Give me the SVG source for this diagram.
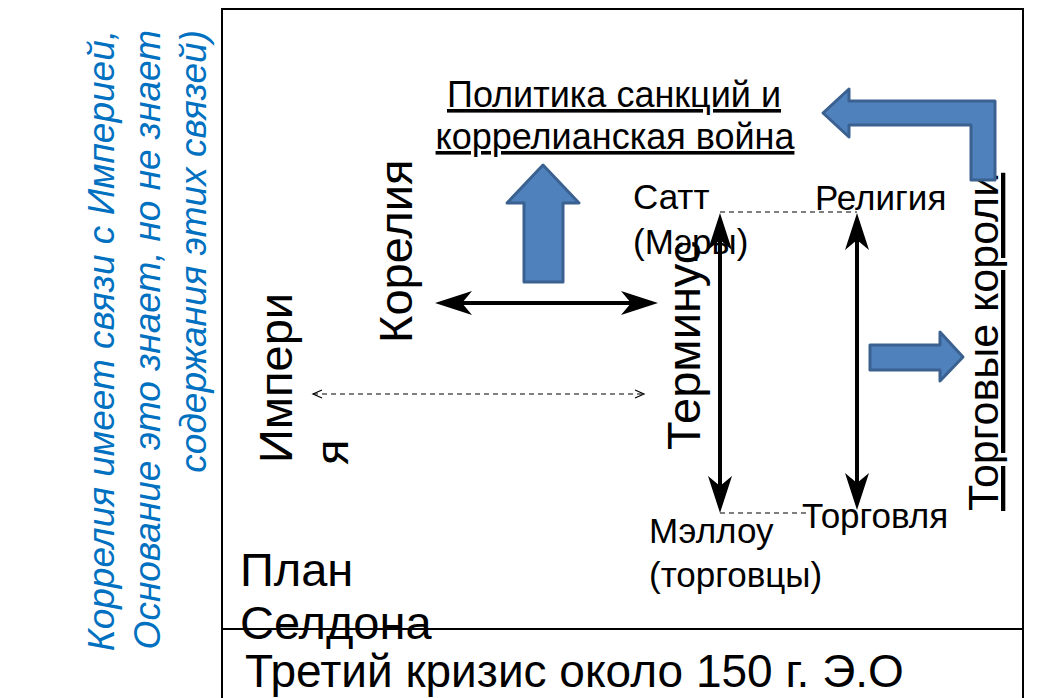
<svg xmlns="http://www.w3.org/2000/svg" width="1038" height="698" viewBox="0 0 1038 698">
<style>
text{font-family:"Liberation Sans",Arial,sans-serif;fill:#000}
.note{font-style:italic;fill:#0070C0;font-size:37px}
.big{font-size:47px}
.mid{font-size:35px}
.title{font-size:36px;text-decoration:underline}
.block{fill:#4F81BD;stroke:#3A6190;stroke-width:3;stroke-linejoin:round}
.thick{stroke:#000;stroke-width:4;fill:none}
.dash{stroke:#000;stroke-width:1.2;fill:none;stroke-dasharray:5 4}
</style>
<defs>
<marker id="stealth" markerUnits="userSpaceOnUse" orient="auto-start-reverse" refX="-27" refY="0" overflow="visible" markerWidth="40" markerHeight="30">
<path d="M0,0 L-37,-12 L-27,0 L-37,12 Z" fill="#000"/>
</marker>
<marker id="open" markerUnits="userSpaceOnUse" orient="auto-start-reverse" refX="0" refY="0" overflow="visible" markerWidth="12" markerHeight="10">
<path d="M-9,-4 L0,0 L-9,4" fill="none" stroke="#000" stroke-width="1.2"/>
</marker>
</defs>
<rect width="1038" height="698" fill="#fff"/>
<g id="frame" fill="none" stroke="#000" stroke-width="2">
<path d="M222,700 L222,9 L1023,9 L1023,700"/>
<path d="M222,629 L1023,629"/>
</g>
<g id="note">
<text class="note" transform="translate(114,30) rotate(-90)" text-anchor="end">Коррелия имеет связи с Империей,</text>
<text class="note" transform="translate(160,30) rotate(-90)" text-anchor="end">Основание это знает, но не знает</text>
<text class="note" transform="translate(206,30) rotate(-90)" text-anchor="end">содержания этих связей)</text>
</g>
<g id="connectors">
<line class="thick" x1="462" y1="303" x2="631" y2="303" marker-start="url(#stealth)" marker-end="url(#stealth)"/>
<line class="dash" x1="313" y1="394" x2="644" y2="394" marker-start="url(#open)" marker-end="url(#open)"/>
<line class="thick" x1="720" y1="240" x2="720" y2="486" marker-start="url(#stealth)" marker-end="url(#stealth)"/>
<line class="thick" x1="857" y1="240" x2="857" y2="483" marker-start="url(#stealth)" marker-end="url(#stealth)"/>
<line class="dash" x1="720" y1="212" x2="857" y2="212"/>
<line class="dash" x1="720" y1="513" x2="810" y2="513"/>
</g>
<g id="policy">
<text class="title" x="614" y="107" text-anchor="middle">Политика санкций и</text>
<text class="title" x="615" y="149" text-anchor="middle">коррелианская война</text>
</g>
<g id="korelia">
<text class="big" transform="translate(412,343) rotate(-90)">Корелия</text>
</g>
<g id="imperia">
<text class="big" transform="translate(292,463) rotate(-90)">Импери</text>
<text class="big" transform="translate(348,465) rotate(-90)">я</text>
</g>
<g id="terminus">
<text class="big" transform="translate(700,450) rotate(-90)">Терминус</text>
</g>
<g id="satt">
<text class="mid" x="633" y="209">Сатт</text>
<text class="mid" x="633" y="254">(Мэры)</text>
</g>
<g id="religia">
<text class="mid" x="815" y="210">Религия</text>
</g>
<g id="mallow">
<text class="mid" x="649" y="543">Мэллоу</text>
<text class="mid" x="649" y="587">(торговцы)</text>
</g>
<g id="torgovlia">
<text class="mid" x="802" y="528">Торговля</text>
</g>
<g id="kings">
<text class="big" style="font-size:43px;text-decoration:underline" transform="translate(998,511) rotate(-90)">Торговые короли</text>
</g>
<g id="plan">
<text class="big" x="240" y="586">План</text>
<text class="big" x="240" y="639">Селдона</text>
</g>
<g id="crisis">
<text style="font-size:46px" x="245" y="687">Третий кризис около 150 г. Э.О</text>
</g>
<g id="block-arrows">
<path class="block" d="M543,165 L579,203 L563,203 L563,282 L524,282 L524,203 L507,203 Z"/>
<path class="block" d="M823,113 L849,89 L849,101 L995,101 L995,180 L971,180 L971,125 L849,125 L849,137 Z"/>
<path class="block" d="M963,357 L940,332 L940,345 L870,345 L870,370 L940,370 L940,381 Z"/>
</g>
</svg>
